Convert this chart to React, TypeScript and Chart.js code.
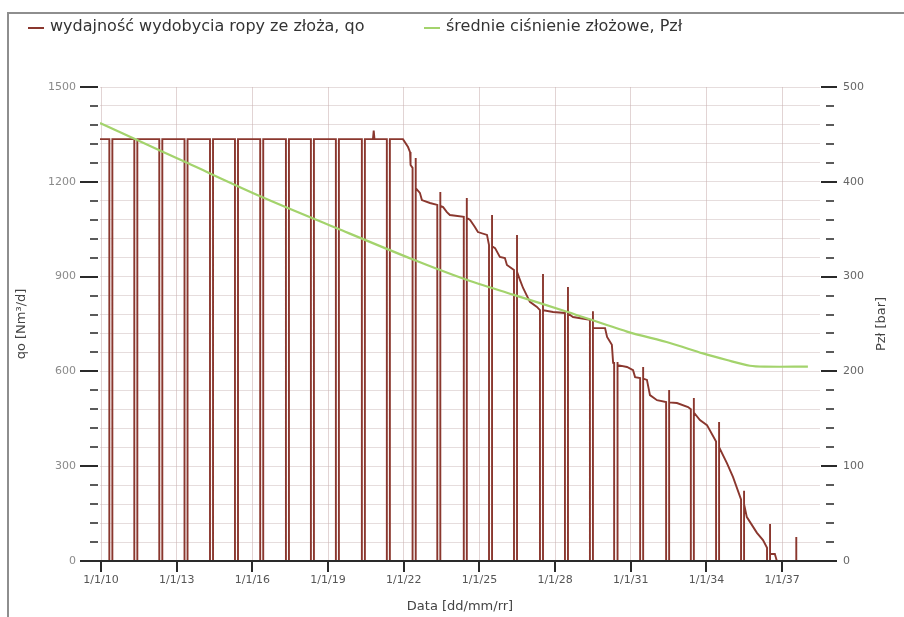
import React, { useEffect, useRef } from 'react';
import { Chart, registerables } from 'chart.js';

Chart.register(...registerables);

// ---------- text ----------
const legendLabels = ['wydajność wydobycia ropy ze złoża, qo', 'średnie ciśnienie złożowe, Pzł'];
const leftTitle = 'qo [Nm³/d]';
const rightTitle = 'Pzł [bar]';
const xTitle = 'Data [dd/mm/rr]';

// ---------- x ticks ----------
const xTickYears = [2010, 2013, 2016, 2019, 2022, 2025, 2028, 2031, 2034, 2037];
const xTickLabels = ['1/1/10', '1/1/13', '1/1/16', '1/1/19', '1/1/22', '1/1/25', '1/1/28', '1/1/31', '1/1/34', '1/1/37'];

// ---------- qo: oil production rate (left axis) ----------
const qoYears = [
  2009.96, 2010.33, 2011.32, 2012.31, 2013.31, 2014.32, 2015.31, 2016.31, 2017.33, 2018.32,
  2019.31, 2020.34, 2020.78, 2020.81, 2020.84, 2021.33, 2021.97, 2022.17, 2022.25, 2022.27,
  2022.35, 2022.48, 2022.64, 2022.72, 2023.04, 2023.33, 2023.45, 2023.56, 2023.71, 2023.83,
  2024.38, 2024.5, 2024.63, 2024.82, 2024.94, 2025.3, 2025.38, 2025.5, 2025.62, 2025.81,
  2026.01, 2026.09, 2026.37, 2026.49, 2026.61, 2026.73, 2027.0, 2027.28, 2027.4, 2027.52,
  2027.92, 2028.39, 2028.51, 2028.71, 2029.38, 2029.5, 2029.98, 2030.06, 2030.25, 2030.3,
  2030.34, 2030.49, 2030.85, 2031.09, 2031.17, 2031.37, 2031.49, 2031.64, 2031.76, 2032.04,
  2032.4, 2032.52, 2032.83, 2033.27, 2033.38, 2033.5, 2033.74, 2034.02, 2034.38, 2034.5,
  2034.81, 2035.05, 2035.37, 2035.49, 2035.6, 2036.0, 2036.24, 2036.4, 2036.52, 2036.71,
  2036.79, 2037.44, 2037.56, 2038.02,
];
const qoValues = [
  1335, 1335, 1335, 1335, 1335, 1335, 1335, 1335, 1335, 1335,
  1335, 1335, 1335, 1362, 1335, 1335, 1335, 1310, 1294, 1253,
  1244, 1180, 1165, 1142, 1133, 1127, 1124, 1120, 1104, 1095,
  1089, 1086, 1079, 1057, 1041, 1032, 1000, 996, 990, 962,
  959, 937, 921, 915, 889, 864, 820, 804, 794, 794,
  788, 785, 783, 772, 763, 737, 737, 709, 684, 627,
  627, 620, 614, 604, 582, 579, 577, 573, 525, 509,
  503, 502, 500, 487, 480, 470, 446, 430, 378, 360,
  310, 266, 195, 180, 139, 89, 66, 42, 22, 22,
  0, 0, 0, 0,
];
// yearly shut-ins (rate drops to zero) and the rate right after restart
const shutdownYears = [
  2010.33, 2011.32, 2012.31, 2013.31, 2014.32, 2015.31, 2016.31, 2017.33, 2018.32, 2019.31,
  2020.34, 2021.33, 2022.35, 2023.33, 2024.38, 2025.38, 2026.37, 2027.4, 2028.39, 2029.38,
  2030.34, 2031.37, 2032.4, 2033.38, 2034.38, 2035.37, 2036.4, 2037.44,
];
const restartPeaks = [
  1335, 1335, 1335, 1335, 1335, 1335, 1335, 1335, 1335, 1335,
  1335, 1335, 1275, 1168, 1149, 1095, 1032, 908, 867, 790,
  630, 614, 541, 516, 440, 222, 117, 76,
];
const SHUT_GAP = 0.12;

// ---------- Pzł: average reservoir pressure (right axis) ----------
const pYears = [2009.96, 2011.43, 2013.41, 2016.38, 2019.35, 2022.37, 2024.35, 2026.33, 2028.47, 2030.85, 2032.55, 2033.86, 2034.81, 2035.72, 2036.3, 2038.02];
const pValues = [462, 444, 420, 384, 351, 318, 298, 281, 263, 242, 230, 219, 212, 206, 205, 205];

const FONT = "'DejaVu Sans', 'Liberation Sans', Arial, sans-serif";
const RED = '#8a372e';
const GREEN = '#a3d36c';

function buildQo() {
  const pts: { x: number; y: number }[] = [];
  qoYears.forEach((yr, i) => {
    pts.push({ x: yr, y: qoValues[i] });
    const j = shutdownYears.indexOf(yr);
    if (j >= 0) {
      pts.push({ x: yr, y: 0 }, { x: yr + SHUT_GAP, y: 0 }, { x: yr + SHUT_GAP, y: restartPeaks[j] });
    }
  });
  return pts;
}

const decorPlugin = {
  id: 'decor',
  afterDraw(chart: any) {
    const ctx = chart.ctx as CanvasRenderingContext2D;
    const { left, right, bottom, top } = chart.chartArea;
    const ys = chart.scales.y;
    const y1 = chart.scales.y1;
    const xs = chart.scales.x;
    ctx.save();
    ctx.lineCap = 'butt';
    // left axis tick marks
    ys.ticks.forEach((t: any) => {
      const py = Math.round(ys.getPixelForValue(t.value));
      const major = t.value % 300 === 0;
      ctx.beginPath();
      ctx.strokeStyle = major ? '#2a2a2a' : '#5a5a5a';
      ctx.lineWidth = 2;
      ctx.moveTo(major ? left - 20 : left - 10, py);
      ctx.lineTo(left - 2, py);
      ctx.stroke();
    });
    // right axis tick marks
    y1.ticks.forEach((t: any) => {
      const py = Math.round(y1.getPixelForValue(t.value));
      const major = t.value % 100 === 0;
      ctx.beginPath();
      ctx.strokeStyle = major ? '#2a2a2a' : '#5a5a5a';
      ctx.lineWidth = 2;
      ctx.moveTo(major ? right + 1 : right + 6, py);
      ctx.lineTo(major ? right + 17 : right + 14, py);
      ctx.stroke();
    });
    // x axis line
    ctx.beginPath();
    ctx.strokeStyle = '#2a2a2a';
    ctx.lineWidth = 2;
    ctx.moveTo(left - 20, Math.round(bottom));
    ctx.lineTo(right + 17, Math.round(bottom));
    ctx.stroke();
    // x tick marks
    xs.ticks.forEach((t: any) => {
      const px = Math.round(xs.getPixelForValue(t.value));
      ctx.beginPath();
      ctx.strokeStyle = '#2a2a2a';
      ctx.lineWidth = 2;
      ctx.moveTo(px, bottom);
      ctx.lineTo(px, bottom + 11);
      ctx.stroke();
    });
    // legend
    const legendColors = [RED, GREEN];
    const legendX = [28, 424];
    ctx.font = `16px ${FONT}`;
    ctx.textBaseline = 'middle';
    ctx.textAlign = 'left';
    legendLabels.forEach((lab, i) => {
      ctx.beginPath();
      ctx.strokeStyle = legendColors[i];
      ctx.lineWidth = 2;
      ctx.moveTo(legendX[i], 28);
      ctx.lineTo(legendX[i] + 16, 28);
      ctx.stroke();
      ctx.fillStyle = '#333333';
      ctx.fillText(lab, legendX[i] + 22, 27);
    });
    // right axis title (reads bottom to top)
    ctx.translate(882, (top + bottom) / 2);
    ctx.rotate(-Math.PI / 2);
    ctx.font = `13px ${FONT}`;
    ctx.fillStyle = '#444444';
    ctx.textAlign = 'center';
    ctx.textBaseline = 'middle';
    ctx.fillText(rightTitle, 0, 0);
    ctx.restore();
  },
};

export default function App() {
  const ref = useRef<HTMLCanvasElement>(null);
  useEffect(() => {
    document.body.style.margin = '0';
    const chart = new Chart(ref.current as HTMLCanvasElement, {
      type: 'line',
      data: {
        datasets: [
          {
            label: legendLabels[0],
            data: buildQo(),
            borderColor: RED,
            borderWidth: 1.9,
            pointRadius: 0,
            tension: 0,
            fill: false,
            yAxisID: 'y',
            order: 2,
          },
          {
            label: legendLabels[1],
            data: pYears.map((x, i) => ({ x, y: pValues[i] })),
            borderColor: GREEN,
            borderWidth: 2.2,
            pointRadius: 0,
            tension: 0.3,
            fill: false,
            yAxisID: 'y1',
            order: 1,
          },
        ],
      },
      options: {
        animation: false,
        responsive: false,
        devicePixelRatio: 1,
        events: [],
        layout: { padding: { top: 87, left: 0, right: 0, bottom: 0 } },
        plugins: {
          legend: { display: false },
          tooltip: { enabled: false },
        },
        scales: {
          x: {
            type: 'linear',
            min: 2009.96,
            max: 2038.5,
            afterBuildTicks: (s: any) => {
              s.ticks = xTickYears.map((v) => ({ value: v }));
            },
            afterFit: (s: any) => {
              s.height = 56;
            },
            ticks: {
              autoSkip: false,
              maxRotation: 0,
              padding: 13,
              color: '#555555',
              font: { family: FONT, size: 11 },
              callback: (v: any) => {
                const i = xTickYears.indexOf(Number(v));
                return i >= 0 ? xTickLabels[i] : '';
              },
            },
            grid: { color: 'rgba(190,160,160,0.45)', lineWidth: 1, drawTicks: false },
            border: { display: false },
            title: {
              display: true,
              text: xTitle,
              color: '#444444',
              font: { family: FONT, size: 13 },
              padding: { top: 0, bottom: 3 },
            },
          },
          y: {
            position: 'left',
            min: 0,
            max: 1500,
            afterFit: (s: any) => {
              s.width = 100;
            },
            ticks: {
              stepSize: 60,
              autoSkip: false,
              padding: 24,
              color: '#8a8a8a',
              font: { family: FONT, size: 11 },
              callback: (v: any) => (Number(v) % 300 === 0 ? String(v) : ''),
            },
            grid: { color: 'rgba(200,180,180,0.45)', lineWidth: 1, drawTicks: false },
            border: { display: false },
            title: {
              display: true,
              text: leftTitle,
              color: '#444444',
              font: { family: FONT, size: 13 },
              padding: { top: 14, bottom: 0 },
            },
          },
          y1: {
            position: 'right',
            min: 0,
            max: 500,
            afterFit: (s: any) => {
              s.width = 84;
            },
            ticks: {
              stepSize: 20,
              autoSkip: false,
              padding: 23,
              color: '#666666',
              font: { family: FONT, size: 11 },
              callback: (v: any) => (Number(v) % 100 === 0 ? String(v) : ''),
            },
            grid: { display: false, drawTicks: false },
            border: { display: false },
          },
        },
      } as any,
      plugins: [decorPlugin],
    });
    return () => chart.destroy();
  }, []);

  return (
    <div style={{ position: 'relative', width: 904, height: 617, overflow: 'hidden', background: '#ffffff' }}>
      <canvas ref={ref} width={904} height={617} style={{ display: 'block', width: 904, height: 617 }} />
      <div
        style={{
          position: 'absolute',
          left: 7,
          top: 12,
          width: 920,
          height: 640,
          borderTop: '2px solid #8e8e8e',
          borderLeft: '2px solid #8e8e8e',
          pointerEvents: 'none',
        }}
      />
    </div>
  );
}
